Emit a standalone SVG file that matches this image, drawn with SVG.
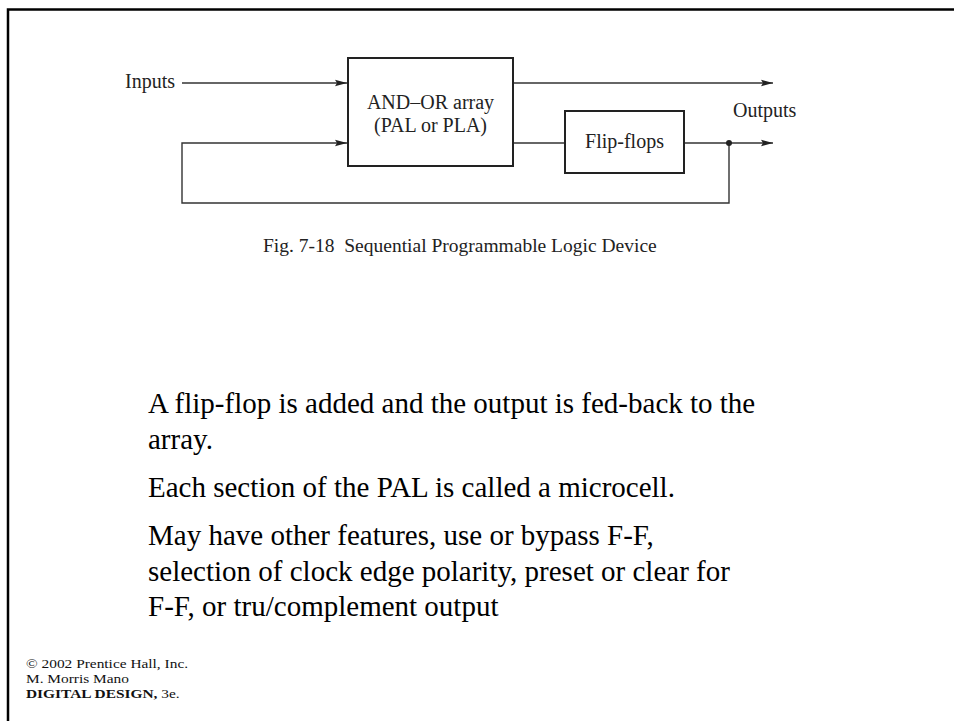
<svg xmlns="http://www.w3.org/2000/svg" width="954" height="721" viewBox="0 0 954 721">
  <defs>
    <style>
      .frame { fill: none; stroke: #000; stroke-width: 2.5; }
      .box { fill: #fff; stroke: #222; stroke-width: 2; }
      .wire { fill: none; stroke: #333; stroke-width: 1.4; }
      .lbl { font-family: "Liberation Serif", "Times New Roman", serif; font-size: 20px; fill: #222; }
      .cap { font-family: "Liberation Serif", "Times New Roman", serif; font-size: 19.5px; fill: #222; }
      .body { font-family: "Liberation Serif", "Times New Roman", serif; font-size: 29px; fill: #000; }
      .foot { font-family: "Liberation Serif", "Times New Roman", serif; font-size: 13.5px; fill: #111; }
    </style>
    <marker id="arrow" viewBox="0 0 12 8" refX="12" refY="4" markerWidth="12" markerHeight="8" markerUnits="userSpaceOnUse" orient="auto">
      <path d="M0,0.8 L12,4 L0,7.2 L2,4 Z" fill="#222"/>
    </marker>
  </defs>

  <rect width="954" height="721" fill="#fff"/>

  <!-- slide frame: top and left rules -->
  <path class="frame" d="M8,721 V9.5 H954"/>

  <!-- connectors -->
  <g id="connectors">
    <line class="wire" x1="182" y1="83" x2="347" y2="83" marker-end="url(#arrow)"/>
    <path class="wire" d="M729,143 V203 H182 V143 H347" marker-end="url(#arrow)"/>
    <line class="wire" x1="513" y1="83" x2="773" y2="83" marker-end="url(#arrow)"/>
    <line class="wire" x1="513" y1="143" x2="565" y2="143"/>
    <line class="wire" x1="684" y1="143" x2="773" y2="143" marker-end="url(#arrow)"/>
    <circle cx="729" cy="143" r="3" fill="#222"/>
  </g>

  <g id="inputs-label">
    <text class="lbl" x="175" y="88" text-anchor="end">Inputs</text>
  </g>

  <g id="and-or-array">
    <rect class="box" x="348" y="58" width="165" height="108"/>
    <text class="lbl" x="430.5" y="109" text-anchor="middle">AND–OR array</text>
    <text class="lbl" x="430.5" y="132" text-anchor="middle">(PAL or PLA)</text>
  </g>

  <g id="flip-flops">
    <rect class="box" x="565" y="111" width="119" height="62"/>
    <text class="lbl" x="624.5" y="148" text-anchor="middle">Flip-flops</text>
  </g>

  <g id="outputs-label">
    <text class="lbl" x="733" y="117">Outputs</text>
  </g>

  <text class="cap" x="263" y="252" xml:space="preserve">Fig. 7-18  Sequential Programmable Logic Device</text>

  <g id="notes">
    <text class="body" x="148" y="413">A flip-flop is added and the output is fed-back to the</text>
    <text class="body" x="148" y="449">array.</text>
    <text class="body" x="148" y="497">Each section of the PAL is called a microcell.</text>
    <text class="body" x="148" y="545">May have other features, use or bypass F-F,</text>
    <text class="body" x="148" y="581">selection of clock edge polarity, preset or clear for</text>
    <text class="body" x="148" y="616">F-F, or tru/complement output</text>
  </g>

  <!-- credits, set slightly wide -->
  <g id="credits" transform="translate(26,0) scale(1.14,1)">
    <text class="foot" x="0" y="668">© 2002 Prentice Hall, Inc.</text>
    <text class="foot" x="0" y="683">M. Morris Mano</text>
    <text class="foot" x="0" y="698"><tspan font-weight="bold">DIGITAL DESIGN,</tspan> 3e.</text>
  </g>
</svg>
